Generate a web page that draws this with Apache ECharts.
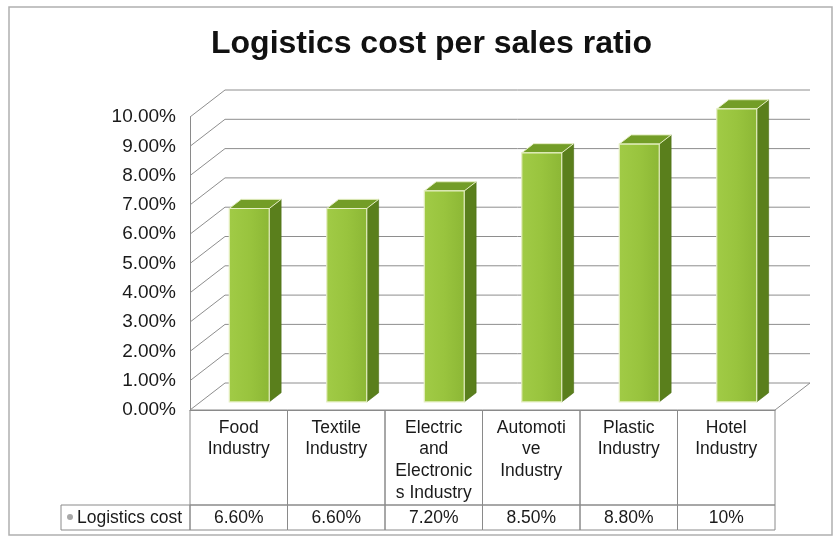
<!DOCTYPE html>
<html>
<head>
<meta charset="utf-8">
<script src="https://cdn.jsdelivr.net/npm/echarts@6/dist/echarts.min.js"></script>
<style>
  html, body { margin: 0; padding: 0; background: #fff; }
  #chart { width: 835px; height: 537px; }
</style>
</head>
<body>
<div id="chart"></div>
<script>
// chart data
const categories = ['Food Industry', 'Textile Industry', 'Electric and Electronics Industry',
  'Automotive Industry', 'Plastic Industry', 'Hotel Industry'];
const categoryLabels = ['Food\nIndustry', 'Textile\nIndustry', 'Electric\nand\nElectronic\ns Industry',
  'Automoti\nve\nIndustry', 'Plastic\nIndustry', 'Hotel\nIndustry'];
const seriesName = 'Logistics cost';
const costValues = [6.6, 6.6, 7.2, 8.5, 8.8, 10];
const costLabels = ['6.60%', '6.60%', '7.20%', '8.50%', '8.80%', '10%'];
const yTicks = [0, 1, 2, 3, 4, 5, 6, 7, 8, 9, 10];

// 3d look: depth of the plot box and where the bars sit in it
const DX = 35, DY = -27;
const D0 = 0.3, D1 = 0.64;
const gridColor = '#8e8e8e';
const font = 'Liberation Sans, Arial, sans-serif';

const myChart = echarts.init(document.getElementById('chart'));

function wallsItem(params, api) {
  const cs = params.coordSys;
  const v = api.value(1);
  const y = api.coord([0, v])[1];
  const x0 = cs.x, x1 = cs.x + cs.width;
  const style = { stroke: gridColor, lineWidth: 1 };
  const children = [
    { type: 'line', shape: { x1: x0, y1: y, x2: x0 + DX, y2: y + DY }, style: style },
    { type: 'line', shape: { x1: x0 + DX, y1: y + DY, x2: x1 + DX, y2: y + DY }, style: style }
  ];
  if (v === 0) {
    children.push({ type: 'line', shape: { x1: x1, y1: y, x2: x1 + DX, y2: y + DY }, style: style });
  }
  return { type: 'group', children: children };
}

function barItem(params, api) {
  const i = api.value(0);
  const top = api.coord([i, api.value(1)]);
  const base = api.coord([i, 0]);
  const bw = api.size([1, 0])[0];
  const w = bw * 0.41;
  const xl = top[0] - w / 2 + D0 * DX;
  const xr = xl + w;
  const yt = top[1] + D0 * DY;
  const yb = base[1] + D0 * DY;
  const ddx = (D1 - D0) * DX, ddy = (D1 - D0) * DY;
  const edge = '#e6efc4';
  return {
    type: 'group',
    children: [
      { type: 'polygon', shape: { points: [[xr, yt], [xr + ddx, yt + ddy], [xr + ddx, yb + ddy], [xr, yb]] },
        style: { fill: '#5a7f1c', stroke: '#4d6e16', lineWidth: 0.6 } },
      { type: 'polygon', shape: { points: [[xl, yt], [xr, yt], [xr + ddx, yt + ddy], [xl + ddx, yt + ddy]] },
        style: { fill: '#739d27', stroke: edge, lineWidth: 1 } },
      { type: 'rect', shape: { x: xl, y: yt, width: w, height: yb - yt },
        style: {
          fill: new echarts.graphic.LinearGradient(0, 0, 1, 0, [
            { offset: 0, color: '#a1cb46' }, { offset: 0.5, color: '#99c43e' }, { offset: 1, color: '#8cb735' }
          ]),
          stroke: edge, lineWidth: 1.2
        } }
    ]
  };
}

function tableItem(params, api) {
  const i = api.value(0);
  const base = api.coord([i, 0]);
  const bw = api.size([1, 0])[0];
  const xl = base[0] - bw / 2;
  const y0 = base[1];
  const style = { fill: 'none', stroke: '#8a8a8a', lineWidth: 1 };
  return {
    type: 'group',
    children: [
      { type: 'rect', shape: { x: xl, y: y0, width: bw, height: 95 }, style: style },
      { type: 'rect', shape: { x: xl, y: y0 + 95, width: bw, height: 25 }, style: style },
      { type: 'text', style: { x: base[0], y: y0 + 108, text: costLabels[i], align: 'center',
        verticalAlign: 'middle', fill: '#1a1a1a', font: '17.5px ' + font } }
    ]
  };
}

const option = {
  backgroundColor: '#ffffff',
  animation: false,
  title: {
    text: 'Logistics cost per sales ratio',
    left: 206,
    top: 23,
    textStyle: { fontFamily: font, fontSize: 32, fontWeight: 'bold', color: '#111' }
  },
  grid: { left: 190, right: 60, top: 117, bottom: 127 },
  xAxis: {
    type: 'category',
    data: categories,
    axisLine: { show: true, lineStyle: { color: '#8a8a8a' } },
    axisTick: { show: false },
    axisLabel: {
      interval: 0,
      margin: 7,
      fontFamily: font,
      fontSize: 17.5,
      lineHeight: 21.7,
      color: '#1a1a1a',
      formatter: function (val, idx) { return categoryLabels[idx]; }
    }
  },
  yAxis: {
    type: 'value',
    min: 0,
    max: 10,
    interval: 1,
    axisLine: { show: true, lineStyle: { color: '#8a8a8a' } },
    axisTick: { show: false },
    splitLine: { show: false },
    axisLabel: {
      margin: 14,
      fontFamily: font,
      fontSize: 19,
      color: '#1a1a1a',
      formatter: function (v) { return v.toFixed(2) + '%'; }
    }
  },
  graphic: [
    { type: 'rect', shape: { x: 9, y: 7, width: 823, height: 528 },
      style: { fill: 'none', stroke: '#b0b0b0', lineWidth: 1.5 }, z: -1 },
    { type: 'rect', shape: { x: 61, y: 505, width: 129, height: 25 },
      style: { fill: 'none', stroke: '#8a8a8a', lineWidth: 1 } },
    { type: 'circle', shape: { cx: 70, cy: 517, r: 3 }, style: { fill: '#a8a8a8' } },
    { type: 'text', style: { x: 77, y: 518, text: seriesName, verticalAlign: 'middle',
      fill: '#1a1a1a', font: '17.5px ' + font } }
  ],
  series: [
    {
      type: 'custom',
      name: 'walls',
      renderItem: wallsItem,
      data: yTicks.map(function (v) { return [0, v]; }),
      encode: { x: 0, y: 1 },
      clip: false,
      silent: true,
      z: 1
    },
    {
      type: 'custom',
      name: seriesName,
      renderItem: barItem,
      data: costValues.map(function (v, i) { return [i, v]; }),
      encode: { x: 0, y: 1 },
      clip: false,
      z: 3
    },
    {
      type: 'custom',
      name: 'table',
      renderItem: tableItem,
      data: costValues.map(function (v, i) { return [i, 0]; }),
      encode: { x: 0, y: 1 },
      clip: false,
      silent: true,
      z: 2
    }
  ]
};

myChart.setOption(option);
</script>
</body>
</html>
